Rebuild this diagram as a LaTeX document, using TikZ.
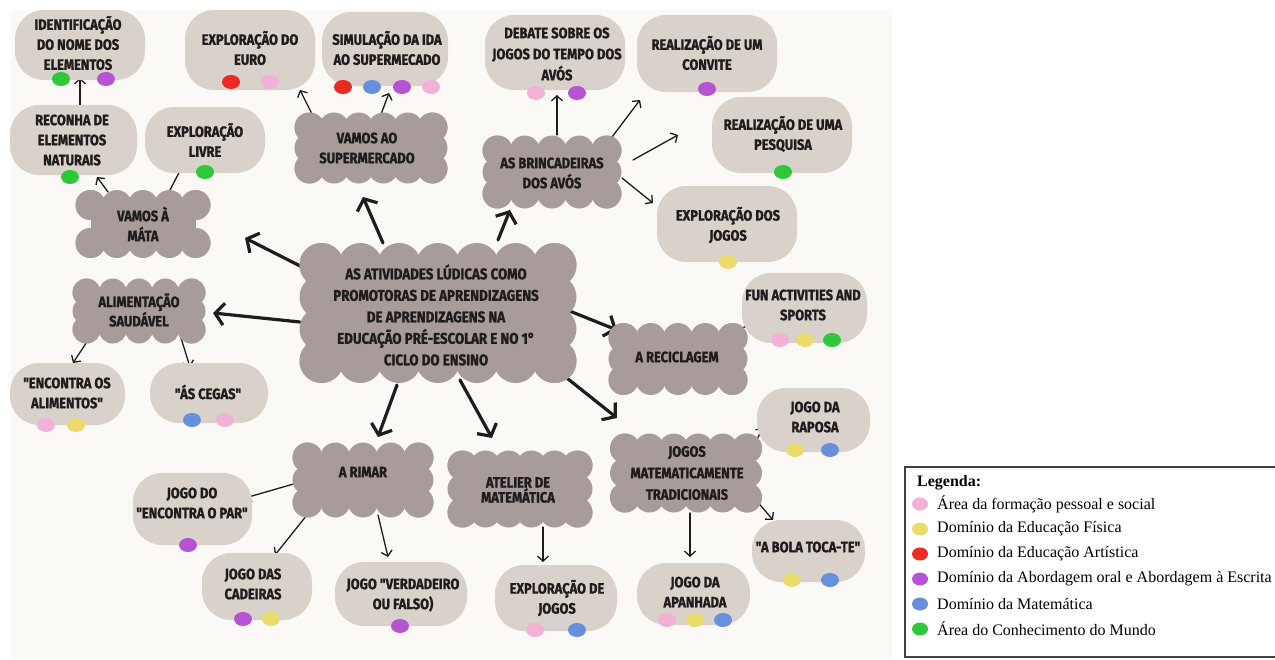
\documentclass[tikz,border=0pt]{standalone}
\usepackage{fontspec}
\setmainfont{Liberation Serif}
\newfontfamily\bub{Fira Sans}[FakeStretch=0.86,FakeBold=1.3]
\usetikzlibrary{arrows.meta}
\pgfdeclarelayer{bgl}\pgfdeclarelayer{conn}\pgfdeclarelayer{shp}
\pgfsetlayers{bgl,conn,shp,main}
\definecolor{bgc}{HTML}{FAF9F6}
\definecolor{pillfill}{HTML}{D9D2CB}
\definecolor{cloudfill}{HTML}{A89C9B}
\definecolor{txt}{HTML}{1E1C1C}
\definecolor{cpink}{HTML}{F3B1D6}
\definecolor{cyel}{HTML}{EADB6C}
\definecolor{cred}{HTML}{EC2A22}
\definecolor{cpur}{HTML}{B653D3}
\definecolor{cblue}{HTML}{6690DB}
\definecolor{cgreen}{HTML}{2FC83A}
\newcommand\cloudbg[5]{%
  \pgfmathsetmacro\cba{#3/2-#5}%
  \pgfmathsetmacro\cbb{#4/2-#5}%
  \pgfmathtruncatemacro\cbnx{max(1,round(2*\cba/(1.7*#5)))}%
  \pgfmathtruncatemacro\cbny{max(1,round(2*\cbb/(1.7*#5)))}%
  \fill[cloudfill] ({#1-\cba},{#2-\cbb}) rectangle ({#1+\cba},{#2+\cbb});%
  \foreach \cbi in {0,...,\cbnx}{%
    \fill[cloudfill] ({#1-\cba+\cbi*2*\cba/\cbnx},{#2-\cbb}) circle[radius=#5pt];
    \fill[cloudfill] ({#1-\cba+\cbi*2*\cba/\cbnx},{#2+\cbb}) circle[radius=#5pt];}%
  \foreach \cbj in {0,...,\cbny}{%
    \fill[cloudfill] ({#1-\cba},{#2-\cbb+\cbj*2*\cbb/\cbny}) circle[radius=#5pt];
    \fill[cloudfill] ({#1+\cba},{#2-\cbb+\cbj*2*\cbb/\cbny}) circle[radius=#5pt];}%
}
\newcommand\pillbg[4]{\fill[pillfill, rounded corners=29pt] (#1,#2) rectangle (#3,#4);}
\newcommand\dotc[3]{\fill[#1] (#2,#3) ellipse[x radius=9pt,y radius=7pt];}
\tikzset{
  bt/.style={font=\bub\bfseries\fontsize{15}{20}\selectfont, align=center, text=txt, inner sep=0pt},
  tight/.style={font=\bub\bfseries\fontsize{15}{15}\selectfont},
  big/.style={line width=3.2pt, line cap=round, draw=txt, -{Straight Barb[length=9pt,width=22pt]}},
  thin/.style={line width=1.3pt, line cap=round, draw=txt, -{Straight Barb[length=5pt,width=11pt]}},
  legt/.style={font=\fontsize{16}{18}\selectfont, anchor=west, inner sep=0pt, text=black}
}
\begin{document}
\begin{tikzpicture}[x=1pt,y=-1pt]
\useasboundingbox (0,0) rectangle (1275,659);
\begin{pgfonlayer}{bgl}
\fill[white] (0,0) rectangle (1275,659);
\fill[bgc] (11,10) rectangle (892,659);
\end{pgfonlayer}
% ---------- texts (nodes) ----------
\node[bt, font=\bub\bfseries\fontsize{15.5}{21.5}\selectfont] (cent) at (436,315) {AS ATIVIDADES LÚDICAS COMO\\PROMOTORAS DE APRENDIZAGENS\\DE APRENDIZAGENS NA\\EDUCAÇÃO PRÉ-ESCOLAR E NO 1°\\CICLO DO ENSINO};
\node[bt] (mata) at (143,224) {VAMOS À\\MÁTA};
\node[bt] (sup) at (367,148) {VAMOS AO\\SUPERMERCADO};
\node[bt] (brinc) at (552,173) {AS BRINCADEIRAS\\DOS AVÓS};
\node[bt, tight] (alim) at (139,310) {ALIMENTAÇÃO\\SAUDÁVEL};
\node[bt] (recicl) at (677,357) {A RECICLAGEM};
\node[bt, font=\bub\bfseries\fontsize{15}{21.5}\selectfont] (jmat) at (687,473) {JOGOS\\MATEMATICAMENTE\\TRADICIONAIS};
\node[bt] (rimar) at (363,472) {A RIMAR};
\node[bt, tight] (atel) at (518,490) {ATELIER DE\\MATEMÁTICA};
\node[bt] (id) at (78,43) {IDENTIFICAÇÃO\\DO NOME DOS\\ELEMENTOS};
\node[bt] (recon) at (72,140) {RECONHA DE\\ELEMENTOS\\NATURAIS};
\node[bt] (livre) at (205,140) {EXPLORAÇÃO\\LIVRE};
\node[bt] (euro) at (250,48) {EXPLORAÇÃO DO\\EURO};
\node[bt] (simul) at (387,48) {SIMULAÇÃO DA IDA\\AO SUPERMECADO};
\node[bt, font=\bub\bfseries\fontsize{15}{21}\selectfont] (debate) at (557,54) {DEBATE SOBRE OS\\JOGOS DO TEMPO DOS\\AVÓS};
\node[bt] (convite) at (707,53) {REALIZAÇÃO DE UM\\CONVITE};
\node[bt] (pesq) at (783,134) {REALIZAÇÃO DE UMA\\PESQUISA};
\node[bt] (expdos) at (728,225) {EXPLORAÇÃO DOS\\JOGOS};
\node[bt] (fun) at (803,305) {FUN ACTIVITIES AND\\SPORTS};
\node[bt] (raposa) at (815,417) {JOGO DA\\RAPOSA};
\node[bt] (bola) at (808,547) {"A BOLA TOCA-TE"};
\node[bt] (apanh) at (695,592) {JOGO DA\\APANHADA};
\node[bt] (encal) at (67,393) {"ENCONTRA OS\\ALIMENTOS"};
\node[bt] (cegas) at (208,392) {"ÁS CEGAS"};
\node[bt] (par) at (192,503) {JOGO DO\\"ENCONTRA O PAR"};
\node[bt] (cadeiras) at (253,584) {JOGO DAS\\CADEIRAS};
\node[bt] (verd) at (403,595) {JOGO "VERDADEIRO\\OU FALSO)};
\node[bt] (expde) at (557,598) {EXPLORAÇÃO DE\\JOGOS};
% ---------- shapes ----------
\begin{pgfonlayer}{shp}
\cloudbg{438}{313}{277}{140}{22}
\cloudbg{143}{224}{135}{68}{15}
\cloudbg{371}{148}{153}{71}{15}
\cloudbg{552}{172}{139}{73}{15}
\cloudbg{139}{311}{133}{65}{14}
\cloudbg{678}{359}{139}{72}{15}
\cloudbg{686}{473}{152}{79}{15}
\cloudbg{363}{480}{141}{75}{15}
\cloudbg{520}{489}{145}{77}{15}
\pillbg{15}{10}{145}{80}
\pillbg{10}{105}{137}{175}
\pillbg{145}{107}{265}{173}
\pillbg{185}{10}{315}{90}
\pillbg{322}{12}{448}{86}
\pillbg{485}{15}{625}{90}
\pillbg{637}{15}{777}{92}
\pillbg{712}{97}{852}{173}
\pillbg{657}{186}{797}{262}
\pillbg{742}{273}{867}{343}
\pillbg{757}{388}{870}{452}
\pillbg{752}{520}{865}{582}
\pillbg{637}{563}{750}{625}
\pillbg{10}{363}{125}{425}
\pillbg{150}{363}{268}{423}
\pillbg{133}{473}{252}{545}
\pillbg{202}{553}{312}{620}
\pillbg{335}{562}{467}{626}
\pillbg{495}{565}{617}{631}
\dotc{cgreen}{61}{79}\dotc{cpur}{106}{79}
\dotc{cgreen}{70}{177}
\dotc{cgreen}{205}{172}
\dotc{cred}{231}{82}\dotc{cpink}{270}{82}
\dotc{cred}{343}{87}\dotc{cblue}{372}{87}\dotc{cpur}{402}{87}\dotc{cpink}{431}{87}
\dotc{cpink}{536}{93}\dotc{cpur}{577}{93}
\dotc{cpur}{707}{89}
\dotc{cgreen}{783}{172}
\dotc{cyel}{728}{262}
\dotc{cpink}{780}{340}\dotc{cyel}{805}{340}\dotc{cgreen}{832}{340}
\dotc{cyel}{795}{450}\dotc{cblue}{830}{450}
\dotc{cyel}{792}{580}\dotc{cblue}{830}{580}
\dotc{cpink}{667}{620}\dotc{cyel}{695}{620}\dotc{cblue}{723}{620}
\dotc{cpink}{46}{425}\dotc{cyel}{76}{425}
\dotc{cblue}{192}{420}\dotc{cpink}{225}{420}
\dotc{cpur}{188}{545}
\dotc{cpur}{243}{619}\dotc{cyel}{271}{619}
\dotc{cpur}{400}{626}
\dotc{cpink}{535}{630}\dotc{cblue}{577}{630}
\end{pgfonlayer}
% ---------- connectors ----------
\begin{pgfonlayer}{conn}
\draw[big] ([shift={(-53,-72)}]cent.center) -- ([shift={(-4,49)}]sup.center);
\draw[big] ([shift={(-126,-44)}]cent.center) -- ([shift={(102,14)}]mata.center);
\draw[big] ([shift={(-136,7)}]cent.center) -- ([shift={(74,3)}]alim.center);
\draw[big] ([shift={(62,-75)}]cent.center) -- ([shift={(-42,37)}]brinc.center);
\draw[big] ([shift={(131,-5)}]cent.center) -- ([shift={(-60,-27)}]recicl.center);
\draw[big] ([shift={(117,52)}]cent.center) -- ([shift={(-70,-55)}]jmat.center);
\draw[big] ([shift={(-39,70)}]cent.center) -- ([shift={(15,-35)}]rimar.center);
\draw[big] ([shift={(24,65)}]cent.center) -- ([shift={(-26,-52)}]atel.center);
\draw[thin] ([shift={(8,-33)}]recon.center) -- ([shift={(2,35)}]id.center);
\draw[thin] ([shift={(-35,-32)}]mata.center) -- ([shift={(25,37)}]recon.center);
\draw[thin] ([shift={(27,-34)}]mata.center) -- ([shift={(-21,23)}]livre.center);
\draw[thin] ([shift={(-52,-28)}]sup.center) -- ([shift={(50,42)}]euro.center);
\draw[thin] ([shift={(10,-23)}]sup.center) -- ([shift={(2,45)}]simul.center);
\draw[thin] ([shift={(5,-38)}]brinc.center) -- ([shift={(0,41)}]debate.center);
\draw[thin] ([shift={(60,-36)}]brinc.center) -- ([shift={(-67,47)}]convite.center);
\draw[thin] ([shift={(81,-13)}]brinc.center) -- ([shift={(-105,1)}]pesq.center);
\draw[thin] ([shift={(70,5)}]brinc.center) -- ([shift={(-75,-22)}]expdos.center);
\draw[thin] ([shift={(-41,15)}]alim.center) -- ([shift={(6,-30)}]encal.center);
\draw[thin] ([shift={(38,15)}]alim.center) -- ([shift={(-18,-25)}]cegas.center);
\draw[thin] ([shift={(45,-21)}]recicl.center) -- ([shift={(-41,15)}]fun.center);
\draw[thin] ([shift={(-66,11)}]rimar.center) -- ([shift={(53,-5)}]par.center);
\draw[thin] ([shift={(-48,33)}]rimar.center) -- ([shift={(22,-29)}]cadeiras.center);
\draw[thin] ([shift={(15,43)}]rimar.center) -- ([shift={(-15,-38)}]verd.center);
\draw[thin] ([shift={(25,37)}]atel.center) -- ([shift={(-14,-36)}]expde.center);
\draw[thin] ([shift={(65,-23)}]jmat.center) -- ([shift={(-52,10)}]raposa.center);
\draw[thin] ([shift={(63,20)}]jmat.center) -- ([shift={(-35,-27)}]bola.center);
\draw[thin] ([shift={(3,40)}]jmat.center) -- ([shift={(-5,-35)}]apanh.center);
\end{pgfonlayer}
% ---------- legend ----------
\draw[line width=1.3pt, draw=black!75] (905,467) rectangle (1290,657);
\node[legt, font=\bfseries\fontsize{16}{18}\selectfont] (leg) at (917,483) {Legenda:};
\node[legt] (l1) at (937,504) {Área da formação pessoal e social};
\node[legt] (l2) at (937,529) {Domínio da Educação Física};
\node[legt] (l3) at (937,554) {Domínio da Educação Artística};
\node[legt] (l4) at (937,579) {Domínio da Abordagem oral e Abordagem à Escrita};
\node[legt] (l5) at (937,604) {Domínio da Matemática};
\node[legt] (l6) at (937,629) {Área do Conhecimento do Mundo};
\fill[cpink] (920,504) ellipse[x radius=8pt,y radius=6.5pt];
\fill[cyel] (920,529) ellipse[x radius=8pt,y radius=6.5pt];
\fill[cred] (920,554) ellipse[x radius=8pt,y radius=6.5pt];
\fill[cpur] (920,579) ellipse[x radius=8pt,y radius=6.5pt];
\fill[cblue] (920,604) ellipse[x radius=8pt,y radius=6.5pt];
\fill[cgreen] (920,629) ellipse[x radius=8pt,y radius=6.5pt];
\end{tikzpicture}
\end{document}
